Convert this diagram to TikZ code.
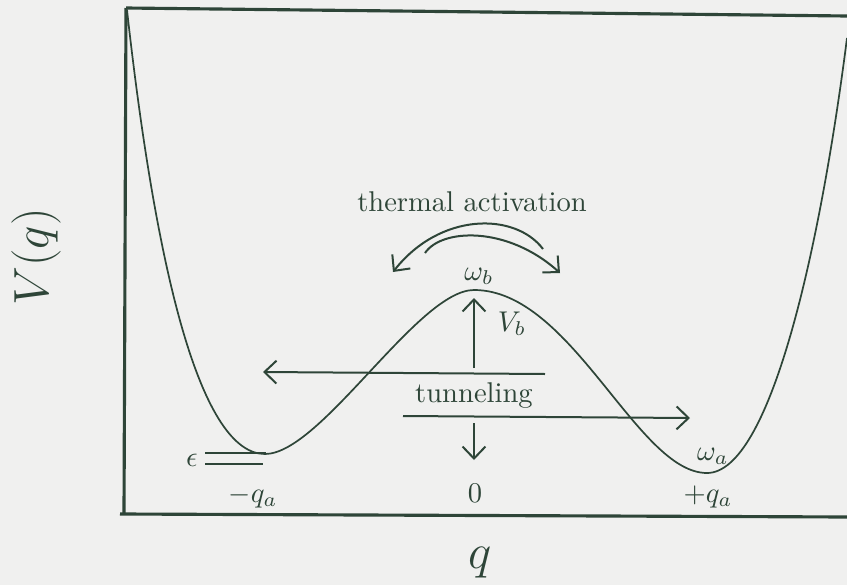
\documentclass[tikz,border=0pt]{standalone}
\usepackage{amsmath, amssymb}
\usepackage{tikz}
\usetikzlibrary{arrows.meta, calc}
\definecolor{mInk}{HTML}{2E4538}
\definecolor{mPaper}{HTML}{F0F0EF}

\begin{document}
\begin{tikzpicture}[x=0.35pt, y=-0.35pt, mInk,
    barb/.style={line width=0.7pt, -{Straight Barb[length=4.2pt, width=8pt]}},
    lbl/.style={inner sep=0pt, anchor=base}]
    \fill[mPaper] (0,0) rectangle (847,585);
    \useasboundingbox (0,0) rectangle (847,585);
    % frame of the plot
    \draw[line width=1.1pt] (126,8) -- (847,16);
    \draw[line width=1.1pt] (126,8) -- (124,514);
    \draw[line width=1.1pt] (120,514) -- (847,517);
    % double well potential
    \coordinate (wallL) at (127,10);
    \coordinate (minL) at (265,454);
    \coordinate (top) at (474,290);
    \coordinate (minR) at (707,473);
    \coordinate (wallR) at (847,38);
    \draw[line width=0.6pt] (wallL) .. controls (157,280) and (202,454) .. (minL)
      .. controls (321,454) and (418,290) .. (top)
      .. controls (572,290) and (637,473) .. (minR)
      .. controls (770,473) and (820,250) .. (wallR);
    % level splitting
    \coordinate (e1a) at (205,453); \coordinate (e1b) at (266,453);
    \coordinate (e2a) at (205,464); \coordinate (e2b) at (263,464);
    \draw[line width=0.7pt] (e1a) -- (e1b);
    \draw[line width=0.7pt] (e2a) -- (e2b);
    % thermal activation
    \node[lbl] (therm) at (472,211) {thermal activation};
    \coordinate (out1) at (543,249); \coordinate (out2) at (393,272);
    \coordinate (in1) at (425,253); \coordinate (in2) at (560,273);
    \draw[barb] (out1) .. controls (515,212) and (440,212) .. (out2);
    \draw[barb] (in1) .. controls (442,228) and (508,226) .. (in2);
    % barrier height
    \node[inner sep=0pt] (wb) at (479,276) {$\omega_b$};
    \node[inner sep=0pt] (vb) at (512,324) {$V_b$};
    \coordinate (up1) at (474,368); \coordinate (up2) at (474,298);
    \draw[barb] (up1) -- (up2);
    % tunneling
    \coordinate (tl1) at (545,374); \coordinate (tl2) at (263,372);
    \draw[barb] (tl1) -- (tl2);
    \node[lbl] (tunn) at (474,402) {tunneling};
    \coordinate (tr1) at (403,416); \coordinate (tr2) at (690,418);
    \draw[barb] (tr1) -- (tr2);
    \coordinate (dn1) at (474,423); \coordinate (dn2) at (474,460);
    \draw[barb] (dn1) -- (dn2);
    % labels
    \node[inner sep=0pt] (eps) at (192,460) {$\epsilon$};
    \node[inner sep=0pt] (wa) at (713,456) {$\omega_a$};
    \node[lbl] (qm) at (253,502) {$-q_a$};
    \node[lbl] (q0) at (475,502) {$0$};
    \node[lbl] (qp) at (708,502) {$+q_a$};
    \node[inner sep=0pt, rotate=90, font=\fontsize{16}{19}\selectfont] (vq) at (36,257) {$V(q)$};
    \node[inner sep=0pt, font=\fontsize{16}{19}\selectfont] (qax) at (480,563) {$q$};
\end{tikzpicture}
\end{document}
